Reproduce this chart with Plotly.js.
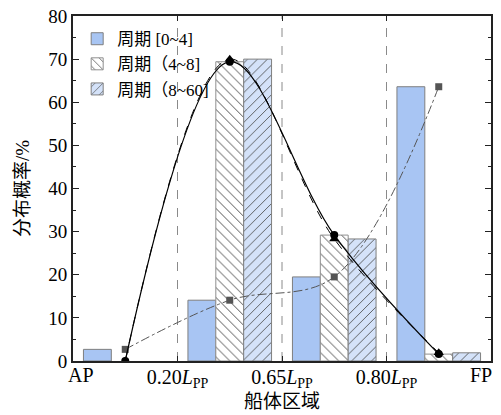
<!DOCTYPE html>
<html>
<head>
<meta charset="utf-8">
<script src="https://cdn.plot.ly/plotly-3.0.1.min.js"></script>
<style>html,body{margin:0;padding:0;background:#fff;}#chart{width:501px;height:415px;}</style>
</head>
<body>
<div id="chart"></div>
<script>
// ---- data ----
const zonePositions = [0.5, 1.5, 2.5, 3.5];
const tickPositions = [0, 1, 2, 3, 4];
const tickLabels = ['AP', '0.20<i>L</i><sub>PP</sub>', '0.65<i>L</i><sub>PP</sub>', '0.80<i>L</i><sub>PP</sub>', 'FP'];
const seriesNames = ['周期 [0~4]', '周期（4~8]', '周期（8~60]'];
const period0to4 = [2.7, 14.1, 19.5, 63.6];
const period4to8 = [0, 69.4, 29.2, 1.6];
const period8to60 = [0, 70.0, 28.3, 1.9];
const dividers = [1, 2, 3];
const xTitle = '船体区域';
const yTitle = '分布概率/%';

const FONT = "'Liberation Serif', 'Times New Roman', 'Noto Sans CJK SC', serif";

// zero-height bars are not drawn (no outline at the baseline)
const barValues = v => v.map(val => (val > 0 ? val : null));

const traces = [
  {type:'bar', x: zonePositions, y: barValues(period0to4), name: seriesNames[0],
   marker:{color:'#a8c5f3', line:{color:'#7f7f7f', width:1}}},
  {type:'bar', x: zonePositions, y: barValues(period4to8), name: seriesNames[1],
   marker:{color:'#ffffff', line:{color:'#8f8f8f', width:1},
     pattern:{shape:'\\', fgcolor:'#333333', bgcolor:'#ffffff', size:7, solidity:0.12}}},
  {type:'bar', x: zonePositions, y: barValues(period8to60), name: seriesNames[2],
   marker:{color:'#d4e2f9', line:{color:'#7f7f7f', width:1},
     pattern:{shape:'/', fgcolor:'#4a4a4a', bgcolor:'#d4e2f9', size:7, solidity:0.12}}},
  {type:'scatter', mode:'lines+markers', x: zonePositions, y: period0to4, showlegend:false,
   line:{color:'#555555', width:1, dash:'dashdot', shape:'spline', smoothing:1},
   marker:{symbol:'square', size:7, color:'#555555'}},
  {type:'scatter', mode:'lines+markers', x: zonePositions, y: period8to60, showlegend:false,
   line:{color:'#000000', width:1, dash:'dash', shape:'spline', smoothing:1},
   marker:{symbol:'triangle-up', size:9, color:'#000000'}},
  {type:'scatter', mode:'lines+markers', x: zonePositions, y: period4to8, showlegend:false,
   line:{color:'#000000', width:1.2, shape:'spline', smoothing:1},
   marker:{symbol:'circle', size:8, color:'#000000'}}
];

const shapes = dividers.map(d => ({type:'line', xref:'x', yref:'y', x0:d, x1:d, y0:0, y1:80,
  line:{color:'#8a8a8a', width:1, dash:'dash'}, layer:'below'}));

// end labels (AP / FP) drawn as annotations so they stay inside the canvas
const innerTicks = tickPositions.slice(1, -1);
const innerLabels = tickLabels.slice(1, -1);
const annotations = [
  {xref:'x', yref:'paper', x:tickPositions[0], y:0, text:tickLabels[0], showarrow:false,
   xanchor:'center', yanchor:'top', xshift:8, yshift:-1, font:{family:FONT, size:20}},
  {xref:'x', yref:'paper', x:tickPositions[4], y:0, text:tickLabels[4], showarrow:false,
   xanchor:'right', yanchor:'top', xshift:3, yshift:-1, font:{family:FONT, size:20}},
  {xref:'paper', yref:'paper', x:0.5, y:0, text:xTitle, showarrow:false,
   xanchor:'center', yanchor:'middle', yshift:-40, font:{family:FONT, size:19}}
];

const layout = {
  width:501, height:415,
  margin:{l:73, r:10, t:16, b:54},
  paper_bgcolor:'#ffffff', plot_bgcolor:'#ffffff',
  font:{family:FONT, size:18, color:'#000'},
  barmode:'group', bargap:0.2, bargroupgap:0,
  showlegend:true,
  legend:{x:0.01, y:0.985, xanchor:'left', yanchor:'top', bgcolor:'rgba(0,0,0,0)',
    font:{family:FONT, size:17}, tracegroupgap:0, itemwidth:30},
  xaxis:{range:[0,4], tickmode:'array', tickvals:innerTicks, ticktext:innerLabels,
    showgrid:false, zeroline:false, showline:true, linecolor:'#222', linewidth:2,
    mirror:'allticks', ticks:'inside', ticklen:5, tickcolor:'#222',
    ticklabelstandoff:-3,
    tickfont:{family:FONT, size:20}},
  yaxis:{range:[0,80], dtick:10, showgrid:false, zeroline:false, showline:true,
    linecolor:'#222', linewidth:2, mirror:'allticks', ticks:'inside', ticklen:6, tickcolor:'#222',
    minor:{dtick:5, ticks:'inside', ticklen:3, tickcolor:'#222'},
    tickfont:{family:FONT, size:19},
    title:{text:yTitle, font:{family:FONT, size:19}, standoff:14}},
  shapes: shapes,
  annotations: annotations
};

Plotly.newPlot('chart', traces, layout, {displayModeBar:false, staticPlot:true});
</script>
</body>
</html>
